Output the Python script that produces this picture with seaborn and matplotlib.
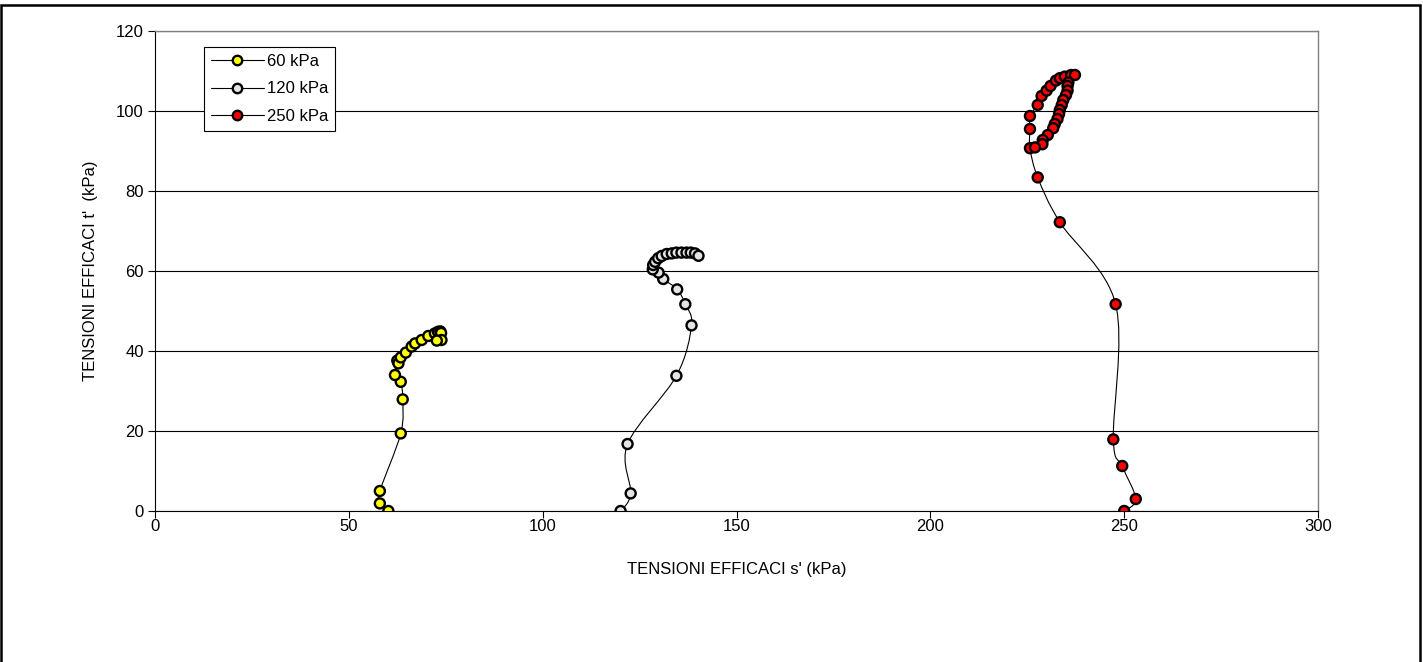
import seaborn as sns
import pandas as pd
import matplotlib.pyplot as plt
import numpy as np
from matplotlib.path import Path
from matplotlib.patches import PathPatch, Rectangle
from matplotlib.lines import Line2D

# stress paths (s', t' in kPa)
s60 = [60.2, 58.0, 58.0, 63.4, 63.9, 63.4, 61.9, 62.5, 62.8, 63.4, 64.7, 66.2, 67.1,
       68.8, 70.5, 72.2, 73.0, 73.6, 73.8, 73.9, 72.7]
t60 = [0.0, 1.9, 5.0, 19.4, 27.9, 32.3, 34.0, 37.6, 36.9, 38.4, 39.6, 41.1, 41.9,
       42.75, 43.75, 44.4, 44.8, 44.9, 44.5, 42.75, 42.6]

s120 = [120.1, 122.7, 121.9, 134.5, 138.4, 136.8, 134.7, 131.1, 129.9, 128.4, 128.5,
        129.0, 129.8, 130.7, 132.0, 133.3, 134.5, 135.8, 137.1, 138.2, 139.3, 140.2]
t120 = [0.0, 4.4, 16.75, 33.8, 46.4, 51.7, 55.4, 58.0, 59.6, 60.4, 61.5,
        62.3, 63.2, 63.75, 64.25, 64.4, 64.6, 64.6, 64.6, 64.6, 64.4, 63.8]

s250 = [250.0, 253.0, 249.5, 247.2, 247.8, 233.4, 227.7, 225.7, 225.7, 225.7, 227.7,
        228.7, 230.0, 231.0, 232.4, 233.4, 234.7, 236.3, 237.3, 235.6, 235.4, 235.4,
        235.0, 234.3, 233.9, 233.4, 233.2, 232.8, 232.1, 231.7, 230.3, 229.0, 228.9, 227.0]
t250 = [0.0, 3.0, 11.25, 17.9, 51.7, 72.2, 83.4, 90.7, 95.5, 98.75, 101.5,
        103.75, 105.1, 106.25, 107.6, 108.2, 108.6, 109.0, 109.0, 107.1, 106.25, 105.1,
        104.0, 102.75, 101.5, 100.25, 99.25, 98.0, 96.75, 95.7, 94.0, 92.75, 91.7, 90.9]

labels = ['60 kPa', '120 kPa', '250 kPa']
fills = ['#FFFF00', '#E4E4E4', '#FF0000']


def smooth_path(xs, ys):
    # Excel-style smoothed line (Catmull-Rom as cubic Bezier segments)
    pts = np.column_stack([xs, ys])
    n = len(pts)
    verts = [pts[0]]
    codes = [Path.MOVETO]
    for i in range(n - 1):
        p0, p1 = pts[max(i - 1, 0)], pts[i]
        p2, p3 = pts[i + 1], pts[min(i + 2, n - 1)]
        verts += [p1 + (p2 - p0) / 6, p2 - (p3 - p1) / 6, p2]
        codes += [Path.CURVE4] * 3
    return Path(verts, codes)


def main():
    sns.set_style('ticks')
    plt.rcParams['font.family'] = ['Liberation Sans', 'DejaVu Sans']
    plt.rcParams.update({'text.color': 'black', 'axes.labelcolor': 'black',
                         'xtick.color': 'black', 'ytick.color': 'black'})

    df = pd.concat([
        pd.DataFrame({'s': s60, 't': t60, 'serie': labels[0]}),
        pd.DataFrame({'s': s120, 't': t120, 'serie': labels[1]}),
        pd.DataFrame({'s': s250, 't': t250, 'serie': labels[2]}),
    ], ignore_index=True)

    W, H = 1423, 662
    fig = plt.figure(figsize=(W / 100, H / 100), dpi=100)
    ax = fig.add_axes([155 / W, 1 - 511 / H, (1318 - 155) / W, (511 - 31) / H])

    # chart area frame
    fig.patches.append(Rectangle((1.5 / W, -0.1), (1419.5 - 1.5) / W, 1.1 - 4.5 / H,
                                 transform=fig.transFigure, fill=False,
                                 edgecolor='black', lw=1.8, zorder=0))

    for lab in labels:
        sub = df[df['serie'] == lab]
        ax.add_patch(PathPatch(smooth_path(sub['s'].values, sub['t'].values),
                               fill=False, edgecolor='black', lw=0.8, zorder=2))

    sns.scatterplot(data=df, x='s', y='t', hue='serie', palette=dict(zip(labels, fills)),
                    s=52, edgecolor='black', linewidth=1.7, legend=False, zorder=3, ax=ax)

    ax.set_xlim(0, 300)
    ax.set_ylim(0, 120)
    ax.set_xticks(range(0, 301, 50))
    ax.set_yticks(range(0, 121, 20))
    ax.yaxis.grid(True, color='black', lw=0.8)
    ax.set_axisbelow(True)
    for side in ['top', 'right']:
        ax.spines[side].set_visible(True)
        ax.spines[side].set_color('#808080')
        ax.spines[side].set_linewidth(1.0)
    for side in ['left', 'bottom']:
        ax.spines[side].set_color('black')
        ax.spines[side].set_linewidth(0.8)
    ax.tick_params(length=5, width=0.8, color='black', labelcolor='black', labelsize=12)
    ax.tick_params(axis='x', pad=1)
    ax.tick_params(axis='y', pad=3)

    ax.set_xlabel("TENSIONI EFFICACI s' (kPa)", fontsize=12, labelpad=20, color='black')
    ax.set_ylabel("TENSIONI EFFICACI t'  (kPa)", fontsize=12, labelpad=13, color='black')

    handles = [Line2D([], [], color='black', lw=0.8, marker='o', ms=6.8,
                      markerfacecolor=c, markeredgecolor='black', markeredgewidth=1.7)
               for c in fills]
    leg = ax.legend(handles, labels, loc='upper left', bbox_to_anchor=(0.042, 0.967),
                    fontsize=12, frameon=True, fancybox=False, edgecolor='black',
                    framealpha=1, handlelength=3.2, borderpad=0.4, labelspacing=0.77,
                    handletextpad=0.2, borderaxespad=0)
    leg.get_frame().set_linewidth(0.8)
    for txt in leg.get_texts():
        txt.set_color('black')

    fig.savefig('out.png', dpi=100, facecolor='white')


if __name__ == "__main__":
    main()
